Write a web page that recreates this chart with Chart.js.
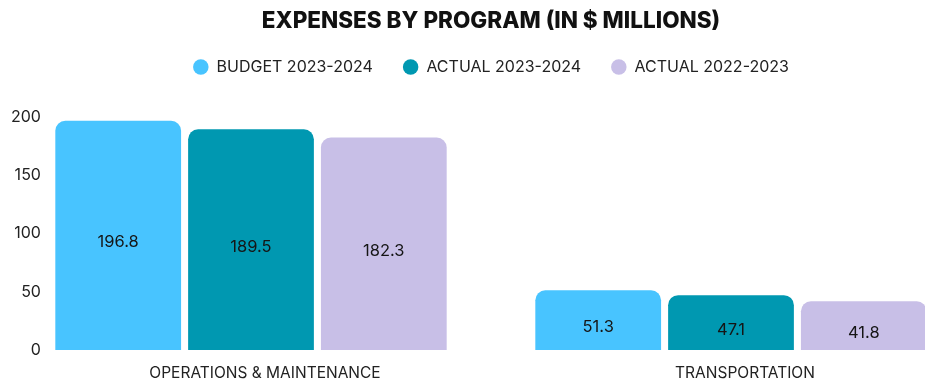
<!DOCTYPE html>
<html>
<head>
<meta charset="utf-8">
<script src="https://cdn.jsdelivr.net/npm/chart.js@4"></script>
<style>
  html, body { margin: 0; padding: 0; background: #fff; }
  #wrap { width: 925px; height: 379px; overflow: hidden; position: relative; }
  canvas { display: block; }
</style>
</head>
<body>
<div id="wrap"><canvas id="c" width="980" height="379"></canvas></div>
<script>
// Programs and spending, in $ millions
const programs = ['OPERATIONS & MAINTENANCE', 'TRANSPORTATION'];
const budget2324 = [196.8, 51.3];
const actual2324 = [189.5, 47.1];
const actual2223 = [182.3, 41.8];
const seriesNames = ['BUDGET 2023-2024', 'ACTUAL 2023-2024', 'ACTUAL 2022-2023'];
const seriesColors = ['#48C4FF', '#0098B1', '#C8BFE7'];
const yTicks = [0, 50, 100, 150, 200];

const FONT = "Inter, 'Noto Sans', sans-serif";

// Writes each bar's value in the middle of the bar
const valueLabels = {
  id: 'valueLabels',
  afterDatasetsDraw(chart) {
    const ctx = chart.ctx;
    ctx.save();
    ctx.font = '16.5px ' + FONT;
    ctx.fillStyle = '#151515';
    ctx.textAlign = 'center';
    ctx.textBaseline = 'middle';
    chart.data.datasets.forEach((ds, i) => {
      chart.getDatasetMeta(i).data.forEach((bar, j) => {
        const p = bar.getProps(['x', 'y', 'base'], true);
        ctx.fillText(ds.data[j].toFixed(1), p.x, (p.y + p.base) / 2 + 7);
      });
    });
    ctx.restore();
  }
};

// Leaves a fixed block of space for the legend above the plot
const legendSpace = {
  id: 'legendSpace',
  beforeInit(chart) {
    const legend = chart.legend;
    const fit = legend.fit;
    legend.fit = function () {
      fit.call(this);
      this.height = 88;
    };
  }
};

const datasets = [budget2324, actual2324, actual2223].map((vals, i) => ({
  label: seriesNames[i],
  data: vals,
  backgroundColor: seriesColors[i],
  borderRadius: { topLeft: 10, topRight: 10 },
  borderSkipped: 'start',
  categoryPercentage: 0.83,
  barPercentage: 0.947
}));

new Chart(document.getElementById('c'), {
  type: 'bar',
  data: { labels: programs, datasets },
  plugins: [valueLabels, legendSpace],
  options: {
    responsive: false,
    animation: false,
    layout: { padding: { left: 11, right: 9, top: 0, bottom: 0 } },
    plugins: {
      tooltip: { enabled: false },
      title: {
        display: true,
        text: 'EXPENSES BY PROGRAM (IN $ MILLIONS)',
        color: '#111',
        font: { family: FONT, size: 22.5, weight: '800' },
        padding: { top: 7.5, bottom: -5.5 }
      },
      legend: {
        position: 'top',
        labels: {
          usePointStyle: true,
          pointStyle: 'circle',
          boxHeight: 11,
          pointStyleWidth: 15.5,
          padding: 30,
          color: '#222',
          font: { family: FONT, size: 16 }
        }
      }
    },
    scales: {
      x: {
        afterFit(scale) { scale.height = 29; },
        grid: { display: false, drawTicks: false },
        border: { display: false },
        ticks: { color: '#222', padding: 14, labelOffset: 14, font: { family: FONT, size: 15.5 } }
      },
      y: {
        min: 0,
        max: 200,
        afterFit(scale) { scale.width = 0; },
        afterBuildTicks(scale) { scale.ticks = yTicks.map(v => ({ value: v })); },
        grid: { display: false, drawTicks: false },
        border: { display: false },
        ticks: {
          mirror: true,
          crossAlign: 'far',
          padding: 0,
          color: '#222',
          font: { family: FONT, size: 16 }
        }
      }
    }
  }
});
</script>
</body>
</html>
